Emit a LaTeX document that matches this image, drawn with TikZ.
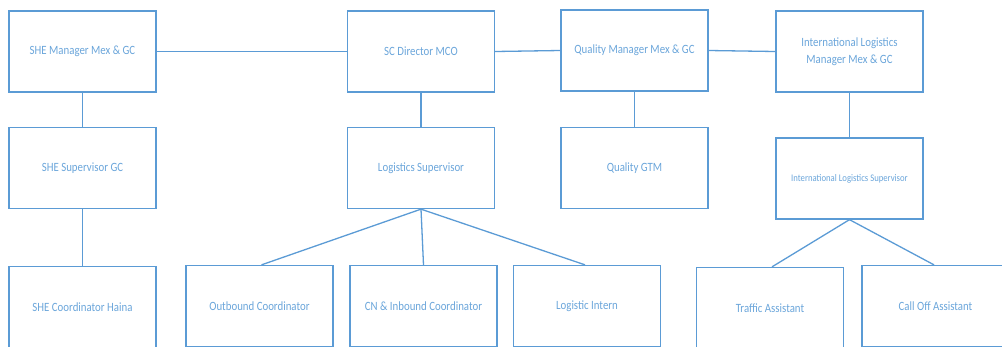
\documentclass[tikz,border=0pt]{standalone}
\usepackage{fontspec}
\setmainfont{Carlito}[FakeStretch=0.86]
\definecolor{orgblue}{HTML}{5B9BD5}
\definecolor{orgtext}{HTML}{6AA5DA}
\tikzset{
  orgbox/.style={draw=orgblue, line width=1.3pt, rectangle, minimum width=147pt,
    minimum height=81pt, inner sep=2pt, align=center, text=orgtext,
    font=\fontsize{12.6}{17}\selectfont},
  smalltext/.style={font=\fontsize{10.1}{12}\selectfont},
  link/.style={draw=orgblue, line width=1.3pt}
}
\begin{document}
\begin{tikzpicture}[x=1pt, y=-1pt]
  \useasboundingbox (0,0) rectangle (1002,346);
  \clip (0,0) rectangle (1002,346);
  % top row: managers and director
  \node[orgbox] (shemgr) at (82.5,51.5) {SHE Manager Mex \& GC};
  \node[orgbox] (scdir)  at (421,51.5)  {SC Director MCO};
  \node[orgbox] (qmgr)   at (634.5,50.5) {Quality Manager Mex \& GC};
  \node[orgbox] (ilmgr)  at (849.5,51.5) {International Logistics\\Manager Mex \& GC};
  % second row: supervisors
  \node[orgbox] (shesup) at (82.5,168)  {SHE Supervisor GC};
  \node[orgbox] (logsup) at (421,168)   {Logistics Supervisor};
  \node[orgbox] (qgtm)   at (634.5,168) {Quality GTM};
  \node[orgbox, smalltext] (ilsup) at (849.5,178.5) {International Logistics Supervisor};
  % third row: coordinators and assistants
  \node[orgbox] (shecoord) at (82.5,307)  {SHE Coordinator Haina};
  \node[orgbox] (outb)     at (259.5,306) {Outbound Coordinator};
  \node[orgbox] (cninb)    at (423.5,306) {CN \& Inbound Coordinator};
  \node[orgbox] (intern)   at (587,306)   {Logistic Intern};
  \node[orgbox] (traffic)  at (770,308)   {Traffic Assistant};
  \node[orgbox] (calloff)  at (935.5,306) {Call Off Assistant};
  % horizontal links between top-row boxes
  \draw[link] (shemgr.east) -- (scdir.west);
  \draw[link] (scdir.east) -- (qmgr.west);
  \draw[link] (qmgr.east) -- (ilmgr.west);
  % vertical reporting lines
  \draw[link] (shemgr.south) -- (shesup.north);
  \draw[link] (scdir.south) -- (logsup.north);
  \draw[link] (qmgr.south) -- (qgtm.north);
  \draw[link] (ilmgr.south) -- (ilsup.north);
  \draw[link] (shesup.south) -- (shecoord.north);
  % fan-out from supervisors
  \draw[link] (logsup.south) -- ([xshift=2pt]outb.north);
  \draw[link] (logsup.south) -- (cninb.north);
  \draw[link] (logsup.south) -- ([xshift=-2pt]intern.north);
  \draw[link] (ilsup.south) -- ([xshift=2pt]traffic.north);
  \draw[link] (ilsup.south) -- ([xshift=-1.5pt]calloff.north);
\end{tikzpicture}
\end{document}
